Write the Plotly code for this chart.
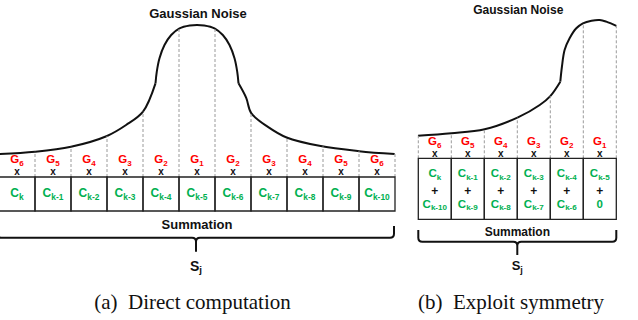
import numpy as np
import plotly.graph_objects as go

# ---------------- data ----------------
G_LEFT = ["6", "5", "4", "3", "2", "1", "2", "3", "4", "5", "6"]
C_LEFT = ["k", "k-1", "k-2", "k-3", "k-4", "k-5", "k-6", "k-7", "k-8", "k-9", "k-10"]
G_RIGHT = ["6", "5", "4", "3", "2", "1"]
C_RIGHT_TOP = ["k", "k-1", "k-2", "k-3", "k-4", "k-5"]
C_RIGHT_BOT = ["k-10", "k-9", "k-8", "k-7", "k-6", ""]

# noise profile (offset from peak in cells, relative amplitude)
L_TAIL1_DX = [-5.51, -4.5, -3.5, -2.5, -1.97, -1.5, -1.153]
L_TAIL1_A = [0.151, 0.166, 0.199, 0.27, 0.342, 0.43, 0.616]
L_HUMP_DX = [-1.153, -1.117, -1.042, -0.903, -0.717, -0.486, -0.2, 0, 0.2, 0.486, 0.717, 0.903, 1.042, 1.117, 1.153]
L_HUMP_A = [0.616, 0.693, 0.781, 0.868, 0.934, 0.978, 0.997, 1.0, 0.997, 0.978, 0.934, 0.868, 0.781, 0.693, 0.616]
L_TAIL2_DX = [1.153, 1.367, 1.506, 1.97, 2.49, 3.4, 4.5, 5.49]
L_TAIL2_A = [0.616, 0.52, 0.42, 0.33, 0.26, 0.205, 0.17, 0.151]

R_TAIL_DX = [-5.51, -4.5, -3.49, -2.48, -1.82, -1.5, -1.197]
R_TAIL_A = [0.163, 0.181, 0.21, 0.296, 0.385, 0.45, 0.554]
R_HUMP_DX = [-1.197, -1.148, -1.067, -0.915, -0.712, -0.512, -0.25, 0, 0.197, 0.5]
R_HUMP_A = [0.554, 0.662, 0.783, 0.868, 0.94, 0.976, 0.995, 1.0, 0.988, 0.957]

# ---------------- layout constants ----------------
W, H = 638, 320
RED = "#ff0000"
GREEN = "#00b050"
BLACK = "#111111"
DASH = "#9a9a9a"

L = dict(x0=-1.0, cw=36.0, top=177.0, bot=211.0, peak_i=5, amp=152.0)
R = dict(x0=418.3, cw=33.0, top=158.3, bot=219.3, peak_i=5, amp=138.3)

fig = go.Figure()
shapes = []


def to_px(P, dx, a):
    xc = P["x0"] + (P["peak_i"] + 0.5) * P["cw"]
    return xc + np.array(dx) * P["cw"], P["top"] - np.array(a) * P["amp"]


def curve(P, segs):
    allx, ally = [], []
    for dx, a in segs:
        xs, ys = to_px(P, dx, a)
        fig.add_trace(go.Scatter(x=xs, y=ys, mode="lines",
                                 line=dict(color=BLACK, width=2, shape="spline", smoothing=1.0),
                                 hoverinfo="skip", showlegend=False))
        allx.extend(xs)
        ally.extend(ys)
    order = np.argsort(allx)
    return np.array(allx)[order], np.array(ally)[order]


def cells(P, n, y_curve):
    for i in range(n + 1):
        x = P["x0"] + i * P["cw"]
        yc = float(np.interp(x, y_curve[0], y_curve[1]))
        shapes.append(dict(type="line", x0=x, x1=x, y0=P["top"], y1=yc,
                           line=dict(color=DASH, width=1, dash="3px,2px")))
    for i in range(n):
        x = P["x0"] + i * P["cw"]
        shapes.append(dict(type="rect", x0=x, x1=x + P["cw"], y0=P["top"], y1=P["bot"],
                           line=dict(color="#222222", width=1.3)))


def brace(xl, xr, xm, yl, ytop, ytip, r=4):
    p = (f"M {xl},{ytop} L {xl},{yl - r} Q {xl},{yl} {xl + r},{yl} "
         f"L {xm - r},{yl} Q {xm},{yl} {xm},{yl + r} L {xm},{ytip} "
         f"M {xm},{yl + r} Q {xm},{yl} {xm + r},{yl} "
         f"L {xr - r},{yl} Q {xr},{yl} {xr},{yl - r} L {xr},{ytop}")
    shapes.append(dict(type="path", path=p, line=dict(color=BLACK, width=2)))


def texts(xs, ys, labels, size, color, family="Liberation Sans, Arial, sans-serif"):
    fig.add_trace(go.Scatter(x=xs, y=ys, mode="text", text=labels,
                             textposition="middle center",
                             textfont=dict(size=size, color=color, family=family),
                             hoverinfo="skip", showlegend=False))


# ---------------- left panel ----------------
lc = curve(L, [(L_TAIL1_DX, L_TAIL1_A), (L_HUMP_DX, L_HUMP_A), (L_TAIL2_DX, L_TAIL2_A)])
nL = len(C_LEFT)
cells(L, nL, lc)
cxL = [L["x0"] + (i + 0.5) * L["cw"] for i in range(nL)]
texts(cxL, [160.5] * nL, [f"<b>G<sub>{g}</sub></b>" for g in G_LEFT], 11.5, RED)
texts(cxL, [172] * nL, ["<b>x</b>"] * nL, 10, BLACK)
texts(cxL, [194] * nL, [f"<b>C<sub>{c}</sub></b>" for c in C_LEFT], 12, GREEN)
midL = L["x0"] + (L["peak_i"] + 0.5) * L["cw"]
texts([midL + 1], [15], ["<b>Gaussian Noise</b>"], 13, BLACK)
texts([midL], [226], ["<b>Summation</b>"], 13, BLACK)
texts([midL - 1], [267], ["<b>S<sub>j</sub></b>"], 14, BLACK)
brace(L["x0"] - 2, L["x0"] + nL * L["cw"] - 1, midL - 1, 237.7, 226, 251.7)
texts([192.5], [304], ["(a)\u00a0\u00a0Direct computation"], 21, BLACK,
      family="Liberation Serif, Times New Roman, serif")

# ---------------- right panel ----------------
rc = curve(R, [(R_TAIL_DX, R_TAIL_A), (R_HUMP_DX, R_HUMP_A)])
nR = len(C_RIGHT_TOP)
cells(R, nR, rc)
cxR = [R["x0"] + (i + 0.5) * R["cw"] for i in range(nR)]
texts(cxR, [142.5] * nR, [f"<b>G<sub>{g}</sub></b>" for g in G_RIGHT], 11.5, RED)
texts(cxR, [154] * nR, ["<b>x</b>"] * nR, 10, BLACK)
texts(cxR, [174.5] * nR, [f"<b>C<sub>{c}</sub></b>" for c in C_RIGHT_TOP], 11.5, GREEN)
texts(cxR, [191.5] * nR, ["<b>+</b>"] * nR, 12, BLACK)
texts(cxR, [205] * nR, [f"<b>C<sub>{c}</sub></b>" if c else "<b>0</b>" for c in C_RIGHT_BOT], 11.5, GREEN)
midR = R["x0"] + nR * R["cw"] / 2
texts([midR + 1], [11], ["<b>Gaussian Noise</b>"], 12, BLACK)
texts([midR], [232.5], ["<b>Summation</b>"], 12, BLACK)
texts([midR], [267], ["<b>S<sub>j</sub></b>"], 13, BLACK)
brace(R["x0"], R["x0"] + nR * R["cw"], midR, 241.7, 230, 255)
texts([511], [304], ["(b)\u00a0\u00a0Exploit symmetry"], 21, BLACK,
      family="Liberation Serif, Times New Roman, serif")

fig.update_layout(
    width=W, height=H, margin=dict(l=0, r=0, t=0, b=0),
    paper_bgcolor="white", plot_bgcolor="white", showlegend=False,
    shapes=shapes,
    xaxis=dict(range=[0, W], visible=False, fixedrange=True),
    yaxis=dict(range=[H, 0], visible=False, fixedrange=True),
)
fig.write_html("out.html", config=dict(displayModeBar=False),
               post_script="document.body.style.margin='0';document.body.style.overflow='hidden';")
